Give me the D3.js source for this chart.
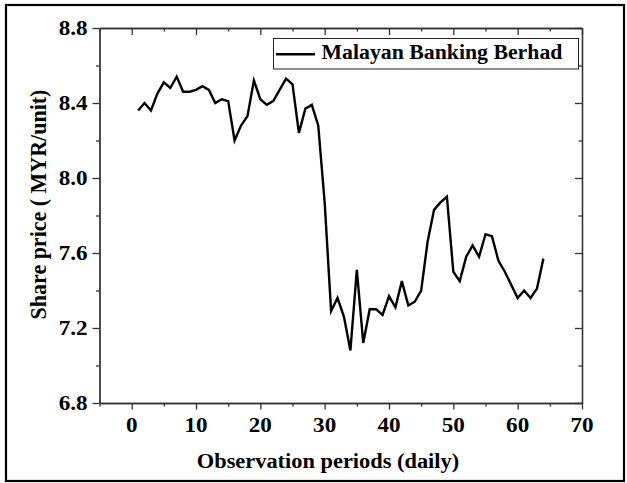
<!DOCTYPE html>
<html>
<head>
<meta charset="utf-8">
<script src="https://cdn.jsdelivr.net/npm/d3@7"></script>
<style>
  body { margin: 0; background: #fff; }
  text { font-family: "Liberation Serif", "Times New Roman", serif; font-weight: bold; fill: #000; }
</style>
</head>
<body>
<div id="chart"></div>
<script>
// Share price of Malayan Banking Berhad over daily observation periods

// Data
var days = d3.range(1, 65);
var prices = [
  8.36, 8.40, 8.36, 8.45, 8.51, 8.48, 8.54, 8.46, 8.46, 8.47,
  8.49, 8.47, 8.40, 8.42, 8.41, 8.20, 8.28, 8.33, 8.52, 8.42,
  8.39, 8.41, 8.47, 8.53, 8.50, 8.24, 8.37, 8.39, 8.28, 7.87,
  7.29, 7.36, 7.26, 7.08, 7.51, 7.12, 7.30, 7.30, 7.27, 7.37,
  7.31, 7.45, 7.32, 7.34, 7.40, 7.66, 7.83, 7.87, 7.90, 7.50,
  7.45, 7.58, 7.64, 7.58, 7.70, 7.69, 7.56, 7.50, 7.43, 7.36,
  7.40, 7.36, 7.41, 7.57
];
var xMajor = [0, 10, 20, 30, 40, 50, 60, 70];
var xMinor = [-5, 5, 15, 25, 35, 45, 55, 65];
var yMajor = [6.8, 7.2, 7.6, 8.0, 8.4, 8.8];
var yMinor = [7.0, 7.4, 7.8, 8.2, 8.6];
var seriesName = "Malayan Banking Berhad";

var svgWidth = 627;
var svgHeight = 483;

// plot frame
var margin = {top: 28, right: 45, bottom: 80, left: 99.5};
var chartWidth = 582 - margin.left;
var chartHeight = 403 - margin.top;

var svg = d3.select("#chart").append("svg")
    .attr("width", svgWidth)
    .attr("height", svgHeight);

// outer border of the figure
svg.append("rect")
    .attr("x", 6)
    .attr("y", 5)
    .attr("width", 618)
    .attr("height", 476)
    .attr("fill", "none")
    .attr("stroke", "#000")
    .attr("stroke-width", 2.2);

var chartGroup = svg.append("g")
    .attr("transform", `translate(${margin.left}, ${margin.top})`);

var xScale = d3.scaleLinear().domain([-5, 70]).range([0, chartWidth]);
var yScale = d3.scaleLinear().domain([6.8, 8.8]).range([chartHeight, 0]);

var axisColor = "#333";

function styleAxis(g) {
    g.selectAll("path.domain").attr("stroke", axisColor).attr("stroke-width", 1.3);
    g.selectAll(".tick line").attr("stroke", axisColor).attr("stroke-width", 1.3);
}

// bottom axis: major with labels, minor without
chartGroup.append("g")
    .attr("transform", `translate(0, ${chartHeight})`)
    .call(d3.axisBottom(xScale).tickValues(xMinor).tickSize(3.5).tickSizeOuter(0).tickFormat(""))
    .call(styleAxis);
var xAxisG = chartGroup.append("g")
    .attr("transform", `translate(0, ${chartHeight})`)
    .call(d3.axisBottom(xScale).tickValues(xMajor).tickSize(6.5).tickSizeOuter(0).tickFormat(d3.format("d")))
    .call(styleAxis);
xAxisG.selectAll(".tick text").remove();

// left axis
chartGroup.append("g")
    .call(d3.axisLeft(yScale).tickValues(yMinor).tickSize(3.5).tickSizeOuter(0).tickFormat(""))
    .call(styleAxis);
var yAxisG = chartGroup.append("g")
    .call(d3.axisLeft(yScale).tickValues(yMajor).tickSize(7).tickSizeOuter(0))
    .call(styleAxis);
yAxisG.selectAll(".tick text").remove();

// top and right axes, ticks pointing inward
chartGroup.append("g")
    .call(d3.axisTop(xScale).tickValues(xMinor).tickSize(-3.5).tickSizeOuter(0).tickFormat(""))
    .call(styleAxis);
chartGroup.append("g")
    .call(d3.axisTop(xScale).tickValues(xMajor).tickSize(-7).tickSizeOuter(0).tickFormat(""))
    .call(styleAxis);
chartGroup.append("g")
    .attr("transform", `translate(${chartWidth}, 0)`)
    .call(d3.axisRight(yScale).tickValues(yMinor).tickSize(-3.5).tickSizeOuter(0).tickFormat(""))
    .call(styleAxis);
chartGroup.append("g")
    .attr("transform", `translate(${chartWidth}, 0)`)
    .call(d3.axisRight(yScale).tickValues(yMajor).tickSize(-7).tickSizeOuter(0).tickFormat(""))
    .call(styleAxis);

// tick labels, slightly stretched horizontally like the picture
var sx = 1.1;
chartGroup.selectAll(".xlab")
    .data(xMajor)
    .enter()
    .append("text")
    .attr("class", "xlab")
    .attr("text-anchor", "middle")
    .attr("font-size", "21px")
    .attr("transform", d => `translate(${xScale(d)}, ${chartHeight + 29}) scale(${sx},1)`)
    .text(d3.format("d"));

chartGroup.selectAll(".ylab")
    .data(yMajor)
    .enter()
    .append("text")
    .attr("class", "ylab")
    .attr("text-anchor", "end")
    .attr("font-size", "21px")
    .attr("transform", d => `translate(-12, ${yScale(d) + 7}) scale(${sx},1)`)
    .text(d3.format(".1f"));

// the price line
var line = d3.line()
    .x((d, i) => xScale(days[i]))
    .y(d => yScale(d));

chartGroup.append("path")
    .datum(prices)
    .attr("d", line)
    .attr("fill", "none")
    .attr("stroke", "#000")
    .attr("stroke-width", 2.4)
    .attr("stroke-linejoin", "miter");

// legend
var legend = svg.append("g");
legend.append("rect")
    .attr("x", 273.5)
    .attr("y", 38.5)
    .attr("width", 305)
    .attr("height", 30.5)
    .attr("fill", "#fff")
    .attr("stroke", "#222")
    .attr("stroke-width", 1);
legend.append("line")
    .attr("x1", 276)
    .attr("x2", 315)
    .attr("y1", 54.3)
    .attr("y2", 54.3)
    .attr("stroke", "#000")
    .attr("stroke-width", 2.4);
legend.append("text")
    .attr("font-size", "20px")
    .attr("transform", "translate(321.5, 58.5) scale(1.09,1)")
    .text(seriesName);

// axis titles
svg.append("text")
    .attr("text-anchor", "middle")
    .attr("font-size", "20px")
    .attr("transform", "translate(328, 468) scale(1.12,1)")
    .text("Observation periods (daily)");

svg.append("text")
    .attr("text-anchor", "middle")
    .attr("font-size", "22px")
    .attr("transform", "translate(46, 204.5) scale(1.05,1) rotate(-90)")
    .text("Share price ( MYR/unit)");
</script>
</body>
</html>
